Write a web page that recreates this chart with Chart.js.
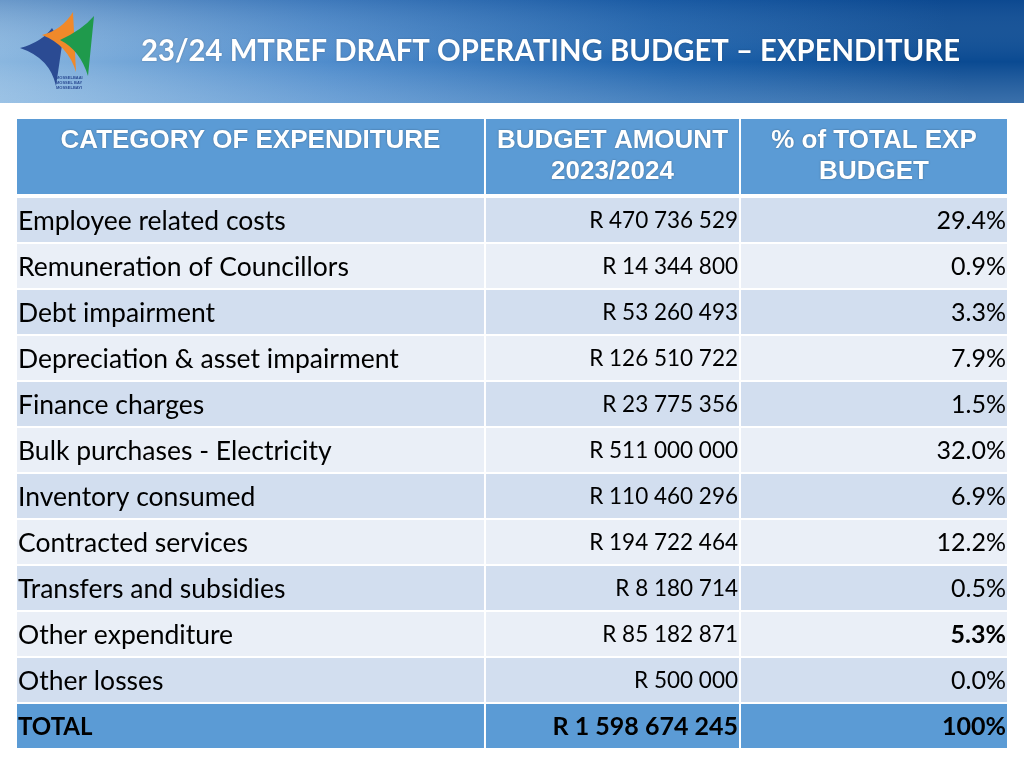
<!DOCTYPE html>
<html><head><meta charset="utf-8">
<script src="https://cdn.jsdelivr.net/npm/chart.js@4.4.1/dist/chart.umd.min.js"></script>
<style>html,body{margin:0;padding:0;background:#fff;overflow:hidden}canvas{display:block}</style>
</head><body>
<canvas id="c" width="1024" height="768"></canvas>
<script>
// ---- data ----
const pageTitle = '23/24 MTREF DRAFT OPERATING BUDGET \u2013 EXPENDITURE';
const headerLabels = [['CATEGORY OF EXPENDITURE'], ['BUDGET AMOUNT', '2023/2024'], ['% of TOTAL EXP', 'BUDGET']];
const categories = ['Employee related costs','Remuneration of Councillors','Debt impairment','Depreciation & asset impairment','Finance charges','Bulk purchases - Electricity','Inventory consumed','Contracted services','Transfers and subsidies','Other expenditure','Other losses'];
const amounts = [470736529, 14344800, 53260493, 126510722, 23775356, 511000000, 110460296, 194722464, 8180714, 85182871, 500000];
const percents = [29.4, 0.9, 3.3, 7.9, 1.5, 32.0, 6.9, 12.2, 0.5, 5.3, 0.0];
const boldPercentRows = ['Other expenditure'];
const totalLabel = 'TOTAL';
const totalAmount = 1598674245;
const totalPercent = '100%';

// ---- layout ----
const colEdges = [0, 0.4727, 0.7303, 1];
const gapU = 1 / 990;
const rowLabels = categories.concat([totalLabel]);
const C_HEAD = '#5B9BD5', C_ODD = '#D2DEEF', C_EVEN = '#EAEFF7';
const BODY_FONT = 'Lato, "Open Sans", sans-serif';

function fmtR(v){ return 'R ' + String(v).replace(/\B(?=(\d{3})+(?!\d))/g, ' '); }

const datasets = [0,1,2].map(c => ({
  label: 'col' + c,
  data: rowLabels.map(() => [colEdges[c] + (c > 0 ? gapU : 0), colEdges[c+1] - (c < 2 ? gapU : 0)]),
  backgroundColor: ctx => ctx.dataIndex === rowLabels.length - 1 ? C_HEAD : (ctx.dataIndex % 2 === 0 ? C_ODD : C_EVEN),
  borderWidth: 0,
  categoryPercentage: 1,
  barPercentage: 44/46,
  grouped: false
}));

const bannerPlugin = {
  id: 'banner',
  beforeDraw(chart){
    const ctx = chart.ctx;
    ctx.save();
    ctx.fillStyle = '#fff'; ctx.fillRect(0,0,1024,768);
    // sky gradient
    let g = ctx.createLinearGradient(0, 103, 900, -150);
    g.addColorStop(0, '#8cb8e0');
    g.addColorStop(0.35, '#4f8ccc');
    g.addColorStop(0.7, '#1d62ac');
    g.addColorStop(1, '#0a4a92');
    ctx.fillStyle = g; ctx.fillRect(0,0,1024,103);
    let g2 = ctx.createLinearGradient(0, 0, 0, 103);
    g2.addColorStop(0, 'rgba(20,70,140,0.25)');
    g2.addColorStop(0.6, 'rgba(255,255,255,0)');
    g2.addColorStop(1, 'rgba(200,225,245,0.25)');
    ctx.fillStyle = g2; ctx.fillRect(0,0,1024,103);
    // logo
    ctx.fillStyle = '#2b4b93';
    ctx.beginPath(); ctx.moveTo(20,48); ctx.quadraticCurveTo(42,42,52,28); ctx.lineTo(62,45); ctx.lineTo(56,86); ctx.quadraticCurveTo(50,58,20,48); ctx.fill();
    ctx.fillStyle = '#f0892a';
    ctx.beginPath(); ctx.moveTo(42,35); ctx.quadraticCurveTo(62,30,73,12); ctx.lineTo(76,72); ctx.quadraticCurveTo(68,45,42,35); ctx.fill();
    ctx.fillStyle = '#1f9a4c';
    ctx.beginPath(); ctx.moveTo(60,40); ctx.quadraticCurveTo(82,30,94,16); ctx.lineTo(88,76); ctx.quadraticCurveTo(80,50,60,40); ctx.fill();
    ctx.fillStyle = '#2b4b93'; ctx.font = 'bold 4px sans-serif'; ctx.textAlign = 'left';
    ctx.fillText('MOSSELBAAI', 56, 79); ctx.fillText('MOSSEL BAY', 56, 84); ctx.fillText('MOSSELBAYI', 56, 89);
    // title
    ctx.fillStyle = '#ffffff';
    ctx.font = 'bold 30px Lato, sans-serif';
    ctx.textBaseline = 'middle'; ctx.textAlign = 'left';
    const w = ctx.measureText(pageTitle).width;
    ctx.save(); ctx.translate(141, 51); ctx.scale(819 / w, 1);
    ctx.shadowColor = 'rgba(0,0,0,0.25)'; ctx.shadowBlur = 2;
    ctx.fillText(pageTitle, 0, 0); ctx.restore();
    // table header
    const xs = chart.scales.x;
    for (let c = 0; c < 3; c++){
      const x0 = xs.getPixelForValue(colEdges[c] + (c > 0 ? gapU : 0));
      const x1 = xs.getPixelForValue(colEdges[c+1] - (c < 2 ? gapU : 0));
      ctx.fillStyle = C_HEAD; ctx.fillRect(x0, 119, x1 - x0, 75);
      ctx.fillStyle = '#fff'; ctx.font = 'bold 26px "Liberation Sans", Arial, sans-serif';
      ctx.textAlign = 'center'; ctx.textBaseline = 'middle';
      ctx.shadowColor = 'rgba(0,0,0,0.35)'; ctx.shadowBlur = 2;
      headerLabels[c].forEach((t, k) => ctx.fillText(t, (x0 + x1) / 2, 141 + k * 31));
      ctx.shadowBlur = 0;
    }
    ctx.restore();
  }
};

const textPlugin = {
  id: 'cellText',
  afterDatasetsDraw(chart){
    const ctx = chart.ctx, xs = chart.scales.x, ys = chart.scales.y;
    ctx.save();
    ctx.fillStyle = '#000'; ctx.textBaseline = 'middle';
    const xl = xs.getPixelForValue(colEdges[0]) + 1;
    const xa = xs.getPixelForValue(colEdges[2]) - 2;
    const xp = xs.getPixelForValue(colEdges[3]) - 1;
    rowLabels.forEach((lab, i) => {
      const y = ys.getPixelForValue(i) + 1;
      const isTotal = i === rowLabels.length - 1;
      ctx.font = isTotal ? 'bold 24px ' + BODY_FONT : '26.5px ' + BODY_FONT;
      ctx.textAlign = 'left';
      ctx.fillText(lab, xl, y);
      ctx.textAlign = 'right';
      ctx.font = isTotal ? 'bold 25px ' + BODY_FONT : '22.5px ' + BODY_FONT;
      ctx.fillText(fmtR(isTotal ? totalAmount : amounts[i]), xa, y);
      const bp = isTotal || boldPercentRows.includes(lab);
      ctx.font = (bp ? 'bold ' : '') + '25px ' + BODY_FONT;
      ctx.fillText(isTotal ? totalPercent : percents[i].toFixed(1) + '%', xp, y);
    });
    ctx.restore();
  }
};

new Chart(document.getElementById('c'), {
  type: 'bar',
  data: { labels: rowLabels, datasets },
  options: {
    indexAxis: 'y',
    responsive: false, animation: false, devicePixelRatio: 1,
    layout: { padding: { left: 17, right: 17, top: 197, bottom: 19 } },
    scales: {
      x: { type: 'linear', min: 0, max: 1, display: false },
      y: { type: 'category', display: false, offset: true }
    },
    plugins: { legend: { display: false }, tooltip: { enabled: false }, title: { display: false } }
  },
  plugins: [bannerPlugin, textPlugin]
});
</script>
</body></html>
